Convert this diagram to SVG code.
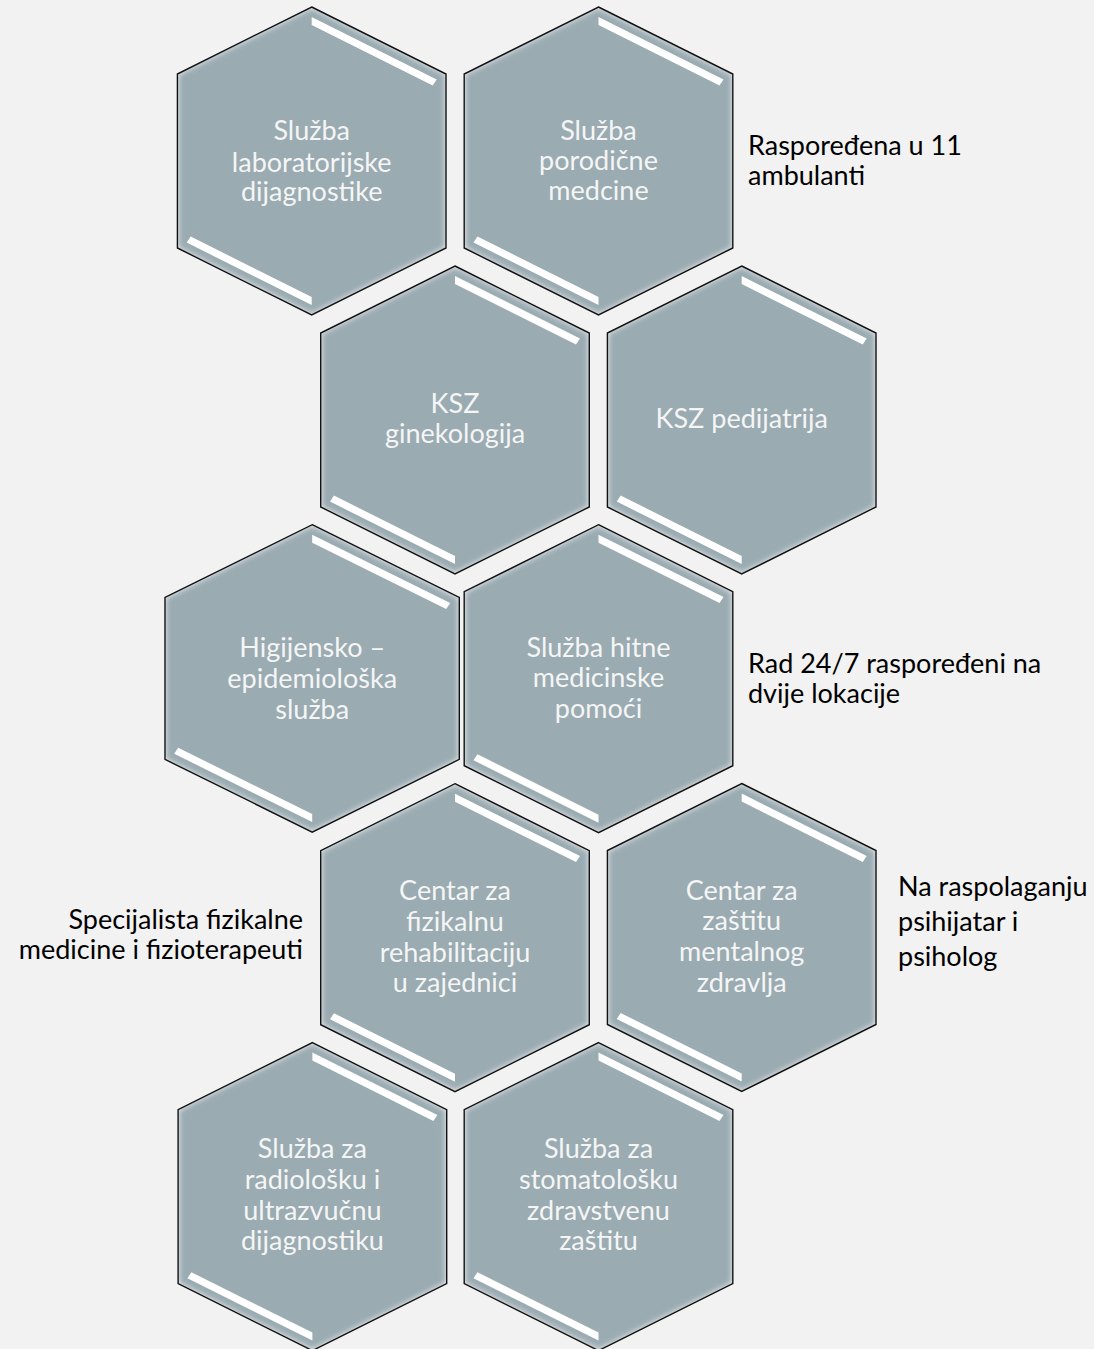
<svg xmlns="http://www.w3.org/2000/svg" xmlns:xlink="http://www.w3.org/1999/xlink" width="1094" height="1349" viewBox="0 0 1094 1349">
<style>
.hf{fill:#9aabb2;filter:url(#glow)}
.hs{fill:none;stroke:#111;stroke-width:1.4;stroke-linejoin:miter}
.hl{fill:#fff;filter:url(#soft)}
.t{font-family:Lato,"Liberation Sans",sans-serif;font-size:27px;fill:#f5f5f5;text-anchor:middle}
.s{font-family:Lato,"Liberation Sans",sans-serif;font-size:27px;fill:#000}
</style>
<defs>
<filter id="glow" x="-10%" y="-10%" width="120%" height="120%">
<feFlood flood-color="#ffffff" flood-opacity="0.85" result="f"/>
<feComposite in="f" in2="SourceAlpha" operator="out" result="o"/>
<feGaussianBlur in="o" stdDeviation="3" result="b"/>
<feComposite in="b" in2="SourceAlpha" operator="in" result="g"/>
<feMerge><feMergeNode in="SourceGraphic"/><feMergeNode in="g"/></feMerge>
</filter>
<filter id="soft" x="-10%" y="-50%" width="120%" height="200%">
<feGaussianBlur stdDeviation="0.7"/>
</filter>
<polygon id="hx" points="0,-154 134.3,-87 134.3,87 0,154 -134.3,87 -134.3,-87"/>
<g id="hlp">
<polygon class="hl" points="0,-144 125,-81.6 121,-75.6 0,-136"/>
<polygon class="hl" points="0,144 -125,81.6 -121,75.6 0,136"/>
</g>
</defs>
<rect width="1094" height="1349" fill="#f2f2f2"/>
<g id="connectors"/>

<g id="n1" transform="translate(311.7,161)">
<use xlink:href="#hx" class="hf"/><use xlink:href="#hx" class="hs"/><use xlink:href="#hlp"/>
<text class="t"><tspan x="0" y="-21">Služba</tspan><tspan x="0" y="10.5">laboratorijske</tspan><tspan x="0" y="40">dijagnostike</tspan></text>
</g>
<g id="n2" transform="translate(598.5,161)">
<use xlink:href="#hx" class="hf"/><use xlink:href="#hx" class="hs"/><use xlink:href="#hlp"/>
<text class="t"><tspan x="0" y="-21.5">Služba</tspan><tspan x="0" y="9">porodične</tspan><tspan x="0" y="39">medcine</tspan></text>
</g>
<g id="n3" transform="translate(455,420)">
<use xlink:href="#hx" class="hf"/><use xlink:href="#hx" class="hs"/><use xlink:href="#hlp"/>
<text class="t"><tspan x="0" y="-6.7">KSZ</tspan><tspan x="0" y="23.3">ginekologija</tspan></text>
</g>
<g id="n4" transform="translate(741.7,420)">
<use xlink:href="#hx" class="hf"/><use xlink:href="#hx" class="hs"/><use xlink:href="#hlp"/>
<text class="t" x="0" y="8">KSZ pedijatrija</text>
</g>
<g id="n5" transform="translate(312.2,678.4)">
<polygon class="hf" points="0,-153.7 147.1,-81 147.1,81 0,153.7 -147.2,81 -147.2,-81"/>
<polygon class="hs" points="0,-153.7 147.1,-81 147.1,81 0,153.7 -147.2,81 -147.2,-81"/>
<polygon class="hl" points="0,-143.6 138,-75.4 134,-69.4 0,-135.6"/>
<polygon class="hl" points="0,143.6 -138,75.4 -134,69.4 0,135.6"/>
<text class="t"><tspan x="0" y="-21.7">Higijensko –</tspan><tspan x="0" y="9.3">epidemiološka</tspan><tspan x="0" y="40.3">služba</tspan></text>
</g>
<g id="n6" transform="translate(598.5,678.7)">
<use xlink:href="#hx" class="hf"/><use xlink:href="#hx" class="hs"/><use xlink:href="#hlp"/>
<text class="t"><tspan x="0" y="-22">Služba hitne</tspan><tspan x="0" y="8">medicinske</tspan><tspan x="0" y="39.6">pomoći</tspan></text>
</g>
<g id="n7" transform="translate(455,937.7)">
<use xlink:href="#hx" class="hf"/><use xlink:href="#hx" class="hs"/><use xlink:href="#hlp"/>
<text class="t"><tspan x="0" y="-37.7">Centar za</tspan><tspan x="0" y="-7">fizikalnu</tspan><tspan x="0" y="24">rehabilitaciju</tspan><tspan x="0" y="54">u zajednici</tspan></text>
</g>
<g id="n8" transform="translate(741.7,937.5)">
<use xlink:href="#hx" class="hf"/><use xlink:href="#hx" class="hs"/><use xlink:href="#hlp"/>
<text class="t"><tspan x="0" y="-37.5">Centar za</tspan><tspan x="0" y="-7.5">zaštitu</tspan><tspan x="0" y="23.5">mentalnog</tspan><tspan x="0" y="54">zdravlja</tspan></text>
</g>
<g id="n9" transform="translate(312.4,1196.6)">
<use xlink:href="#hx" class="hf"/><use xlink:href="#hx" class="hs"/><use xlink:href="#hlp"/>
<text class="t"><tspan x="0" y="-38.3">Služba za</tspan><tspan x="0" y="-7.3">radiološku i</tspan><tspan x="0" y="23.4">ultrazvučnu</tspan><tspan x="0" y="53.4">dijagnostiku</tspan></text>
</g>
<g id="n10" transform="translate(598.5,1196.6)">
<use xlink:href="#hx" class="hf"/><use xlink:href="#hx" class="hs"/><use xlink:href="#hlp"/>
<text class="t"><tspan x="0" y="-38.3">Služba za</tspan><tspan x="0" y="-7.3">stomatološku</tspan><tspan x="0" y="23.4">zdravstvenu</tspan><tspan x="0" y="53.4">zaštitu</tspan></text>
</g>

<g id="note1"><text class="s"><tspan x="748" y="155">Raspoređena u 11</tspan><tspan x="748" y="185">ambulanti</tspan></text></g>
<g id="note2"><text class="s"><tspan x="748" y="673">Rad 24/7 raspoređeni na</tspan><tspan x="748" y="703">dvije lokacije</tspan></text></g>
<g id="note3"><text class="s" text-anchor="end"><tspan x="303" y="929">Specijalista fizikalne</tspan><tspan x="303" y="959">medicine i fizioterapeuti</tspan></text></g>
<g id="note4"><text class="s"><tspan x="898" y="896">Na raspolaganju</tspan><tspan x="898" y="931">psihijatar i</tspan><tspan x="898" y="966">psiholog</tspan></text></g>
</svg>
